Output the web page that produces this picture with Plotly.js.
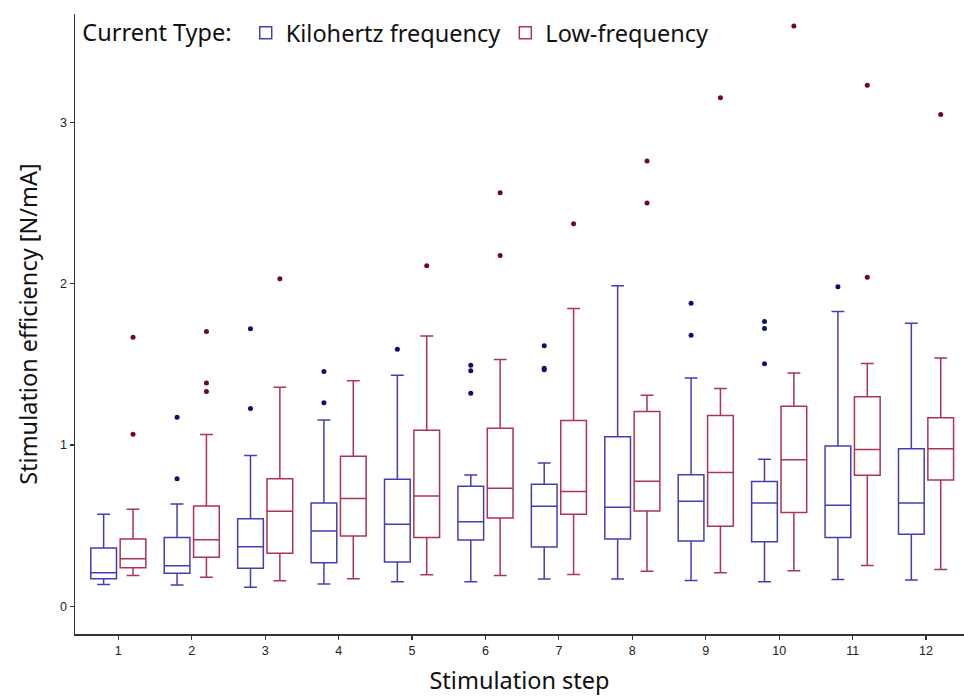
<!DOCTYPE html>
<html>
<head>
<meta charset="utf-8">
<script src="https://cdn.plot.ly/plotly-3.0.1.min.js"></script>
<style>html,body{margin:0;padding:0;background:#fff;}#chart{width:964px;height:696px;}</style>
</head>
<body>
<div id="chart"></div>
<script>
// Stimulation steps
const steps = [1,2,3,4,5,6,7,8,9,10,11,12];

// Kilohertz frequency box statistics
const khzLower  = [0.137,0.133,0.119,0.139,0.154,0.154,0.170,0.170,0.161,0.154,0.168,0.164];
const khzQ1     = [0.172,0.206,0.237,0.272,0.276,0.412,0.369,0.418,0.406,0.401,0.428,0.448];
const khzMedian = [0.210,0.253,0.371,0.468,0.509,0.526,0.621,0.615,0.652,0.642,0.627,0.642];
const khzQ3     = [0.363,0.427,0.544,0.642,0.788,0.745,0.757,1.051,0.816,0.775,0.995,0.978];
const khzUpper  = [0.571,0.635,0.935,1.156,1.433,0.815,0.889,1.987,1.415,0.912,1.827,1.754];
// Kilohertz outliers (step, value)
const khzOutStep  = [2,2,3,3,4,4,5,6,6,6,7,7,7,9,9,10,10,10,11];
const khzOutValue = [1.173,0.792,1.720,1.226,1.456,1.263,1.594,1.495,1.460,1.321,1.615,1.476,1.466,1.879,1.680,1.766,1.722,1.504,1.980];

// Low-frequency box statistics
const lowLower  = [0.193,0.181,0.160,0.172,0.197,0.193,0.199,0.218,0.210,0.222,0.254,0.230];
const lowQ1     = [0.241,0.305,0.330,0.437,0.427,0.549,0.571,0.592,0.497,0.583,0.814,0.784];
const lowMedian = [0.296,0.414,0.590,0.670,0.685,0.733,0.712,0.776,0.831,0.909,0.973,0.978];
const lowQ3     = [0.418,0.623,0.792,0.931,1.092,1.104,1.152,1.208,1.184,1.241,1.300,1.170];
const lowUpper  = [0.602,1.065,1.359,1.398,1.675,1.530,1.846,1.309,1.351,1.447,1.506,1.540];
// Low-frequency outliers (step, value)
const lowOutStep  = [1,1,2,2,2,3,5,6,6,7,8,8,9,10,11,11,12];
const lowOutValue = [1.668,1.067,1.704,1.385,1.332,2.030,2.111,2.563,2.175,2.371,2.760,2.499,3.151,3.595,3.229,2.039,3.048];

const seriesNames = ['Kilohertz frequency','Low-frequency'];
const yTickVals = [0,1,2,3];
const yTickText = ['0','1','2','3'];

const blue = '#4040b4', red = '#ad3452';
const blueDot = '#0c0c78', redDot = '#6e0a1c';

const boxCommon = {type:'box', boxpoints:false, fillcolor:'rgba(255,255,255,0)', hoverinfo:'y'};

const traces = [
  Object.assign({}, boxCommon, {
    name: seriesNames[0], x: steps, q1: khzQ1, median: khzMedian, q3: khzQ3,
    lowerfence: khzLower, upperfence: khzUpper, offsetgroup:'khz', line:{color:blue, width:1.5}
  }),
  Object.assign({}, boxCommon, {
    name: seriesNames[1], x: steps, q1: lowQ1, median: lowMedian, q3: lowQ3,
    lowerfence: lowLower, upperfence: lowUpper, offsetgroup:'low', line:{color:red, width:1.5}
  }),
  {type:'scatter', mode:'markers', x: khzOutStep, y: khzOutValue, offsetgroup:'khz', showlegend:false,
   marker:{color:blueDot, size:5}, name: seriesNames[0]},
  {type:'scatter', mode:'markers', x: lowOutStep, y: lowOutValue, offsetgroup:'low', showlegend:false,
   marker:{color:redDot, size:5}, name: seriesNames[1]}
];

const fam = 'Noto Sans, Open Sans, sans-serif';
const titleFont = {family:fam, size:23.5, color:'#111'};

const layout = {
  width: 964, height: 696,
  margin: {l:75, r:0, t:14, b:62},
  paper_bgcolor:'#fff', plot_bgcolor:'#fff',
  boxmode:'group', boxgap:0.2, boxgroupgap:0.125,
  scattermode:'group', scattergap:0.2,
  showlegend:true,
  legend:{
    orientation:'h', x:0.006, xanchor:'left', y:1.005, yanchor:'top',
    bgcolor:'rgba(0,0,0,0)', font:{family:fam, size:23.5, color:'#111'},
    title:{text:'Current Type: ', side:'left', font:{family:fam, size:23.5, color:'#111'}},
    itemwidth:30, tracegroupgap:0
  },
  xaxis:{
    range:[0.41, 12.517], tickvals: steps, ticktext: steps.map(String),
    showgrid:false, zeroline:false, showline:true, linecolor:'#333', linewidth:1.5,
    ticks:'outside', ticklen:4, tickcolor:'#333', tickwidth:1.2,
    tickfont:{family:'Liberation Sans, Arial, sans-serif', size:12.5, color:'#222'},
    title:{text:'Stimulation step', font:titleFont, standoff:22}
  },
  yaxis:{
    range:[-0.17, 3.67], tickvals: yTickVals, ticktext: yTickText,
    showgrid:false, zeroline:false, showline:true, linecolor:'#333', linewidth:1.5,
    ticks:'outside', ticklen:4, tickcolor:'#333', tickwidth:1.2,
    tickfont:{family:'Liberation Sans, Arial, sans-serif', size:12.5, color:'#222'},
    title:{text:'Stimulation efficiency [N/mA]', font:titleFont, standoff:16}
  }
};

Plotly.newPlot('chart', traces, layout, {displayModeBar:false, staticPlot:true});
</script>
</body>
</html>
